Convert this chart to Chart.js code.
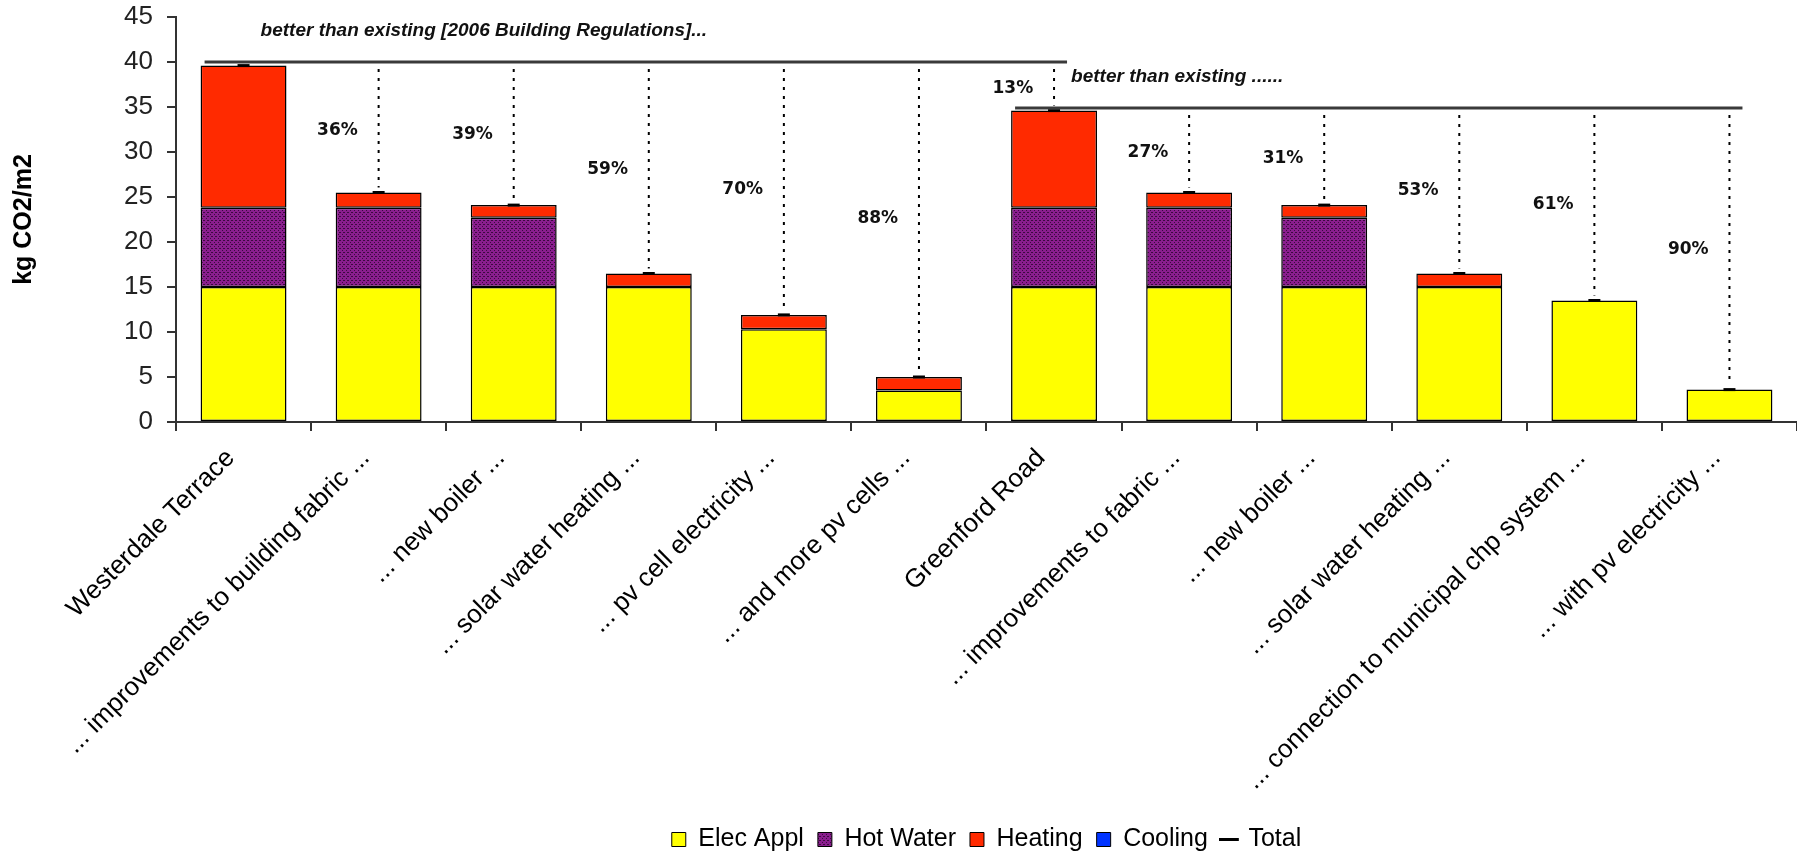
<!DOCTYPE html>
<html>
<head>
<meta charset="utf-8">
<title>kg CO2/m2 by measure</title>
<script src="https://cdn.jsdelivr.net/npm/chart.js@4.4.1/dist/chart.umd.min.js"></script>
<style>
  html, body { margin: 0; padding: 0; background: #fff; overflow: hidden; }
  canvas { display: block; }
</style>
</head>
<body>
<canvas id="chart" width="1797" height="858"></canvas>
<script>
var categories = [
  'Westerdale Terrace',
  '... improvements to building fabric ...',
  '... new boiler ...',
  '... solar water heating ...',
  '... pv cell electricity ...',
  '... and more pv cells ...',
  'Greenford Road',
  '... improvements to fabric ...',
  '... new boiler ...',
  '... solar water heating ...',
  '... connection to municipal chp system ...',
  '... with pv electricity ...'
];
var elecAppl = [15, 15, 15, 15, 10.3, 3.5, 15, 15, 15, 15, 13.5, 3.6];
var hotWater = [8.8, 8.8, 7.7, null, null, null, 8.8, 8.8, 7.7, null, null, null];
var heating  = [15.8, 1.7, 1.4, 1.5, 1.6, 1.5, 10.8, 1.7, 1.4, 1.5, null, null];
var cooling  = [null, null, null, null, null, null, null, null, null, null, null, null];
var totals   = [39.6, 25.5, 24.1, 16.5, 11.9, 5.0, 34.6, 25.5, 24.1, 16.5, 13.5, 3.6];

// "better than existing" baselines and the categories each one covers
var baselines  = [40, 34.9];
var groupStart = [0, 6];
var groupEnd   = [6, 11];
var groupNotes = ['better than existing [2006 Building Regulations]...', 'better than existing ......'];

// saving labels and the value level they sit at
var pctLabels = ['', '36%', '39%', '59%', '70%', '88%', '13%', '27%', '31%', '53%', '61%', '90%'];
var pctAt     = [null, 32.4, 31.9, 28.0, 25.8, 22.6, 37.0, 29.9, 29.3, 25.7, 24.2, 19.2];

var FONT = '"Liberation Sans", Arial, sans-serif';
Chart.defaults.font.family = FONT;
Chart.defaults.color = '#000';

var canvas = document.getElementById('chart');

// speckled purple like the original fill
function stipple(base, dot) {
  var c = document.createElement('canvas');
  c.width = 4; c.height = 4;
  var g = c.getContext('2d');
  g.fillStyle = base; g.fillRect(0, 0, 4, 4);
  g.fillStyle = dot; g.fillRect(0, 0, 1, 1); g.fillRect(2, 2, 1, 1); g.fillRect(3, 0, 1, 1);
  return canvas.getContext('2d').createPattern(c, 'repeat');
}
var purple = stipple('#8a1e8e', '#3c0a40');

var notes = {
  id: 'notes',
  afterDatasetsDraw: function (chart) {
    var ctx = chart.ctx, x = chart.scales.x, y = chart.scales.y;
    var step = x.getPixelForValue(1) - x.getPixelForValue(0);
    var half = step * 0.318;
    ctx.save();
    baselines.forEach(function (b, g) {
      var by = y.getPixelForValue(b);
      var x0 = x.getPixelForValue(groupStart[g]) - half + 4;
      var x1 = x.getPixelForValue(groupEnd[g]) + 13;

      ctx.setLineDash([3, 6]);
      ctx.lineWidth = 2;
      ctx.strokeStyle = '#000';
      for (var i = groupStart[g] + 1; i <= groupEnd[g]; i++) {
        var cx = x.getPixelForValue(i);
        ctx.beginPath();
        ctx.moveTo(cx, by + 7);
        ctx.lineTo(cx, y.getPixelForValue(totals[i]) - 5);
        ctx.stroke();
      }
      ctx.setLineDash([]);

      ctx.lineWidth = 3;
      ctx.strokeStyle = '#3a3a3a';
      ctx.beginPath();
      ctx.moveTo(x0, by);
      ctx.lineTo(x1, by);
      ctx.stroke();

      ctx.font = 'italic bold 19px ' + FONT;
      ctx.fillStyle = '#111';
      ctx.textAlign = 'left';
      ctx.textBaseline = 'middle';
      ctx.fillText(groupNotes[g], x0 + 56, by - 31);
    });

    ctx.font = 'bold 17px "DejaVu Sans", sans-serif';
    ctx.fillStyle = '#111';
    ctx.textAlign = 'center';
    ctx.textBaseline = 'middle';
    pctLabels.forEach(function (t, i) {
      if (!t) return;
      ctx.fillText(t, x.getPixelForValue(i) - step * 0.305, y.getPixelForValue(pctAt[i]));
    });
    ctx.restore();
  }
};

var barStyle = { borderColor: '#000', borderWidth: 1.5, borderSkipped: false,
                 categoryPercentage: 1, barPercentage: 0.636, order: 1, stack: 'parts' };

new Chart(canvas, {
  type: 'bar',
  data: {
    labels: categories,
    datasets: [
      Object.assign({ label: 'Elec Appl', data: elecAppl, backgroundColor: '#ffff00' }, barStyle),
      Object.assign({ label: 'Hot Water', data: hotWater, backgroundColor: purple }, barStyle),
      Object.assign({ label: 'Heating', data: heating, backgroundColor: '#ff2a00' }, barStyle),
      Object.assign({ label: 'Cooling', data: cooling, backgroundColor: '#0033ff' }, barStyle),
      {
        type: 'line', label: 'Total', data: totals, stack: 'total', order: 0,
        showLine: false, pointStyle: 'line', pointRadius: 6, pointBorderWidth: 3,
        borderColor: '#000', backgroundColor: '#000'
      }
    ]
  },
  options: {
    responsive: false,
    animation: false,
    events: [],
    layout: { autoPadding: false, padding: { top: 17, right: 0, bottom: -4, left: 0 } },
    plugins: {
      tooltip: { enabled: false },
      legend: {
        position: 'bottom',
        fullSize: false,
        labels: {
          font: { size: 25 },
          color: '#000',
          boxWidth: 14,
          boxHeight: 14,
          padding: 14,
          usePointStyle: true,
          generateLabels: function (chart) {
            return chart.data.datasets.map(function (ds, i) {
              var isLine = ds.type === 'line';
              return {
                text: ds.label,
                fillStyle: ds.backgroundColor,
                strokeStyle: '#000',
                lineWidth: isLine ? 3 : 1,
                pointStyle: isLine ? 'line' : 'rect',
                datasetIndex: i,
                hidden: false
              };
            });
          }
        }
      }
    },
    scales: {
      x: {
        stacked: true,
        ticks: { autoSkip: false, maxRotation: 45, minRotation: 45, font: { size: 26 },
                 color: '#000', padding: 12, labelOffset: -13 },
        grid: { drawOnChartArea: false, tickLength: 9, color: '#333', lineWidth: 2 },
        border: { color: '#333', width: 2 },
        afterFit: function (s) { s.height = 391; s.paddingLeft = 0; s.paddingRight = 0; }
      },
      y: {
        stacked: true,
        min: 0,
        max: 45,
        ticks: { stepSize: 5, font: { size: 26 }, color: '#222', padding: 14 },
        grid: { drawOnChartArea: false, tickLength: 9, color: '#333', lineWidth: 2 },
        border: { color: '#333', width: 2 },
        title: { display: true, text: 'kg CO2/m2', font: { size: 25, weight: 'bold' },
                 color: '#000', padding: { top: 9, bottom: 0 } },
        afterFit: function (s) { s.width = 176; s.paddingTop = 0; s.paddingBottom = 0; }
      }
    }
  },
  plugins: [notes]
});
</script>
</body>
</html>
